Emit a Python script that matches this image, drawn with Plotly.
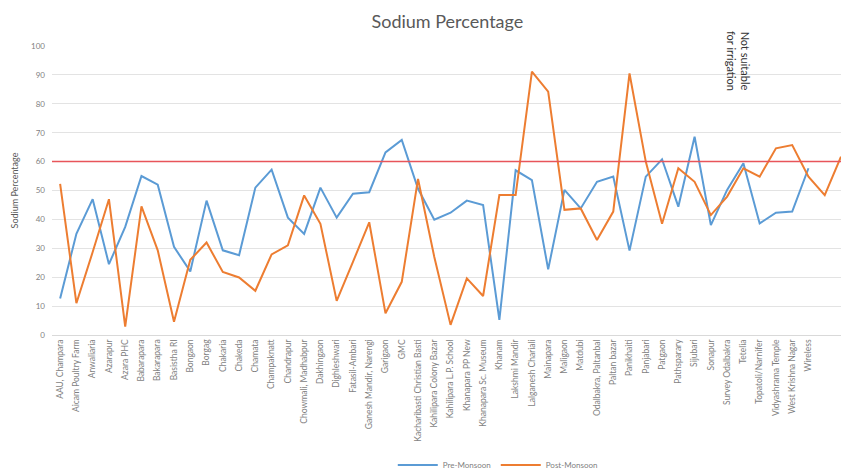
import plotly.graph_objects as go

# sampling sites (x axis)
sites = [
    "AAU, Champara", "Aicam Poultry Farm", "Anwaliaria", "Azarapur", "Azara PHC",
    "Babarapara", "Bakarapara", "Basistha RI", "Bongaon", "Borgag",
    "Chakaria", "Chakeda", "Chamata", "Champaknatt", "Chandrapur",
    "Chowmali, Madhabpur", "Dakhingaon", "Dighleshwari", "Fatasil-Ambari",
    "Ganesh Mandir, Narengi", "Garigaon", "GMC", "Kacharibasti Christian Basti",
    "Kahilipara Colony Bazar", "Kahilipara L.P. School", "Khanapara PP New",
    "Khanapara Sc. Museum", "Khanam", "Lakshmi Mandir", "Lalganesh Chariali",
    "Mainapara", "Maligaon", "Matdubi", "Odalbakra, Paltanbal", "Paltan bazar",
    "Panikhaiti", "Panjabari", "Patgaon", "Pathsparary", "Sijubari", "Sonapur",
    "Survey Odalbakra", "Tetelia", "Topatoli/Narnifer", "Vidyashrama Temple",
    "West Krishna Nagar", "Wireless",
]

pre_monsoon = [
    12.6, 35, 47, 24.5, 37.4, 55, 52, 30.5, 22, 46.5,
    29.3, 27.6, 51, 57.2, 40.6, 35, 51, 40.6, 48.9, 49.4,
    63.2, 67.5, 50.6, 39.9, 42.3, 46.5, 45, 5.2, 57, 53.6,
    22.7, 50.2, 43.8, 53, 54.8, 29.2, 54.8, 60.8, 44.4, 68.6,
    38, 50.2, 59.4, 38.6, 42.3, 42.7, 57.7,
]

# post-monsoon runs two points past the last labelled site
post_monsoon = [
    52.3, 11, 28.7, 47, 2.9, 44.5, 29.3, 4.6, 26, 32,
    21.8, 19.9, 15.3, 27.9, 31, 48.3, 38.5, 11.8, 25.3, 39,
    7.5, 18.4, 54, 27, 3.5, 19.6, 13.5, 48.4, 48.4, 91.1,
    84.2, 43.3, 43.8, 32.9, 42.7, 90.5, 60, 38.5, 57.7, 53,
    41.5, 47.9, 57.7, 54.8, 64.6, 65.7, 54.8, 48.4, 61.7,
]

limit = 60
y_ticks = list(range(0, 101, 10))

font = "Lato, 'Open Sans', sans-serif"
grey = "#7f7f7f"

fig = go.Figure()

fig.add_trace(go.Scatter(
    x=list(range(len(pre_monsoon))),
    y=pre_monsoon,
    mode="lines",
    name="Pre-Monsoon",
    line=dict(color="#5B9BD5", width=2),
))

fig.add_trace(go.Scatter(
    x=list(range(len(post_monsoon))),
    y=post_monsoon,
    mode="lines",
    name="Post-Monsoon",
    line=dict(color="#ED7D31", width=2),
))

# irrigation limit line
fig.add_shape(
    type="line", xref="paper", x0=0, x1=1, yref="y", y0=limit, y1=limit,
    line=dict(color="#E8555A", width=1.5),
)

fig.add_annotation(
    x=41.7, y=95, xref="x", yref="y",
    text="Not suitable<br>for irrigation",
    textangle=90, showarrow=False,
    font=dict(family=font, size=11, color="#333333"),
)

fig.update_layout(
    width=841, height=471,
    margin=dict(l=52, r=0, t=46, b=136, autoexpand=False),
    plot_bgcolor="white", paper_bgcolor="white",
    title=dict(
        text="Sodium Percentage", x=0.532, xanchor="center", y=0.953, yanchor="middle",
        font=dict(family=font, size=18, color="#595959"),
    ),
    showlegend=True,
    legend=dict(
        orientation="h", x=0.565, xanchor="center", y=-0.45, yanchor="middle",
        font=dict(family=font, size=8, color=grey),
        itemwidth=40,
    ),
)

fig.update_xaxes(
    range=[-0.5, len(post_monsoon) - 1],
    tickvals=list(range(len(sites))),
    ticktext=sites,
    tickangle=-90,
    tickfont=dict(family=font, size=8.5, color=grey),
    showgrid=False, zeroline=False,
    showline=True, linecolor="#d9d9d9", linewidth=1,
    automargin=False,
)

fig.update_yaxes(
    range=[0, 100],
    tickvals=y_ticks,
    tickfont=dict(family=font, size=8, color=grey),
    ticklabelstandoff=6,
    title=dict(text="Sodium Percentage", font=dict(family=font, size=9, color="#595959"), standoff=10),
    showgrid=True, gridcolor="#e3e3e3", gridwidth=1,
    zeroline=False, showline=False,
    ticks="", ticklen=0,
    automargin=False,
)

# drop the default page margin so the figure sits at the window corner
fig.write_html(
    "out.html",
    config={"displayModeBar": False},
    post_script="document.body.style.margin='0';",
)
